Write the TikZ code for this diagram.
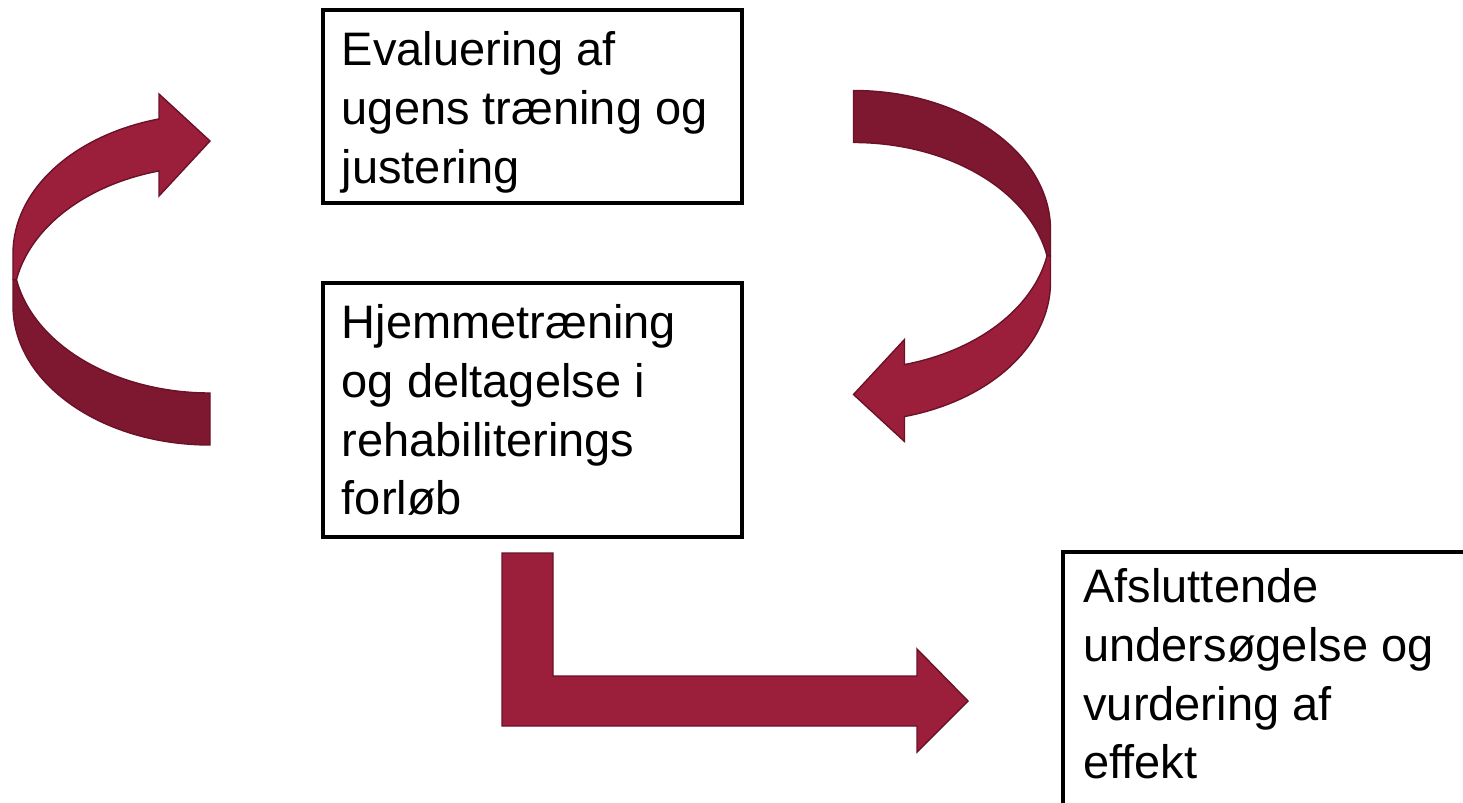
\documentclass[tikz,border=0pt]{standalone}
\usepackage{fontspec}
\setmainfont{Liberation Sans}
\usepackage{xcolor}
\usetikzlibrary{positioning}
\definecolor{pilrod}{HTML}{9B1E3A}
\definecolor{pilmork}{HTML}{7E1730}
\definecolor{pilkant}{HTML}{6B1228}
\tikzset{
  boks/.style={draw=black, line width=2pt, rectangle, inner sep=0pt, outer sep=0pt, anchor=north west},
  boktekst/.style={font=\fontsize{23.5}{29.4}\selectfont, align=left, inner sep=0pt, anchor=north west},
  pilfor/.style={fill=pilrod, draw=pilkant, line width=0.7pt},
  pilbag/.style={fill=pilmork, draw=pilkant, line width=0.7pt},
  rundpil/.pic={
    % bagside (hale)
    \draw[pilbag] (13,279.6) -- (13,305.6) arc[start angle=180, end angle=90, x radius=197, y radius=139.4]
      -- (210,393) arc[start angle=90, end angle=169.25, x radius=197, y radius=139.4] -- cycle;
    % forside med pilespids
    \draw[pilfor] (16.46,279.6) arc[start angle=190.75, end angle=255, x radius=197, y radius=139.4]
      -- (159,196) -- (210,141) -- (159,94) -- (159,118.95)
      arc[start angle=255, end angle=180, x radius=197, y radius=139.4] -- (13,279.6) -- cycle;
  }
}
\begin{document}
\begin{tikzpicture}[x=0.5pt, y=-0.5pt]
  \clip (0,0) rectangle (1463,803);
  \fill[white] (0,0) rectangle (1463,803);

  \pic at (0,0) {rundpil};
  \pic[rotate=180] at (1063.5,535.5) {rundpil};

  \node[boks, minimum width=209.5pt, minimum height=96.5pt] (eval) at (323,10) {};
  \node[boktekst] (evaltekst) at (341.4,24) {\strut Evaluering af\\ugens træning og\\justering};

  \node[boks, minimum width=209.5pt, minimum height=127pt] (hjem) at (323,283) {};
  \node[boktekst] (hjemtekst) at (341.4,297) {\strut Hjemmetræning\\og deltagelse i\\rehabiliterings\\forløb};

  \node[boks, minimum width=220pt, minimum height=150pt] (afslut) at (1063,552) {};
  \node[boktekst] (afsluttekst) at (1083,561) {\strut Afsluttende\\undersøgelse og\\vurdering af\\effekt};

  % vinkelpil ned og til hoejre
  \draw[pilfor] (502,553) -- (553,553) -- (553,676) -- (917,676) -- (917,649) -- (968,701)
    -- (917,752) -- (917,726) -- (502,726) -- cycle;
\end{tikzpicture}
\end{document}
